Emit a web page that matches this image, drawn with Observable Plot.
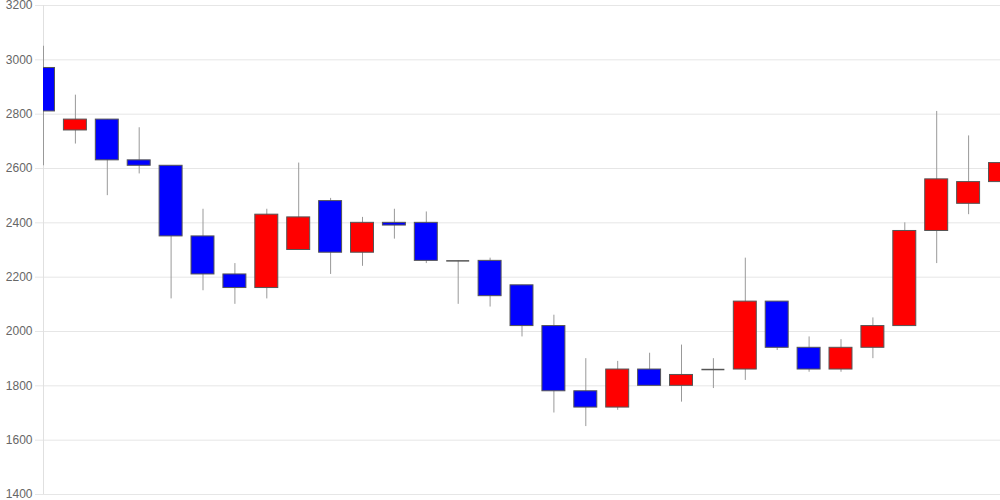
<!DOCTYPE html>
<html>
<head>
<meta charset="utf-8">
<script src="https://cdn.jsdelivr.net/npm/d3@7"></script>
<script src="https://cdn.jsdelivr.net/npm/@observablehq/plot@0.6"></script>
<style>
  html, body { margin: 0; padding: 0; background: #fff; }
  #chart svg { display: block; }
</style>
</head>
<body>
<div id="chart"></div>
<script>
const openVals  = [2970, 2740, 2780, 2630, 2610, 2350, 2210, 2160, 2300, 2480, 2290, 2400, 2400, 2260, 2260, 2170, 2020, 1780, 1720, 1860, 1800, 1860, 1860, 2110, 1940, 1860, 1940, 2020, 2370, 2470, 2550];
const closeVals = [2810, 2780, 2630, 2610, 2350, 2210, 2160, 2430, 2420, 2290, 2400, 2390, 2260, 2260, 2130, 2020, 1780, 1720, 1860, 1800, 1840, 1860, 2110, 1940, 1860, 1940, 2020, 2370, 2560, 2550, 2620];
const highVals  = [3050, 2870, 2780, 2750, 2610, 2450, 2250, 2450, 2620, 2490, 2420, 2450, 2440, 2260, 2270, 2170, 2060, 1900, 1890, 1920, 1950, 1900, 2270, 2110, 1980, 1970, 2050, 2400, 2810, 2720, 2820];
const lowVals   = [2610, 2690, 2500, 2580, 2120, 2150, 2100, 2120, 2300, 2210, 2240, 2340, 2250, 2100, 2090, 1980, 1700, 1650, 1710, 1800, 1740, 1790, 1820, 1930, 1850, 1850, 1900, 2020, 2250, 2430, 2440];
const yTicks = [1400, 1600, 1800, 2000, 2200, 2400, 2600, 2800, 3000, 3200];

const data = openVals.map((o, i) => ({
  i,
  open: o,
  close: closeVals[i],
  high: highVals[i],
  low: lowVals[i],
  up: closeVals[i] >= o
}));
const bodies = data.filter(d => d.open !== d.close);
const dojis = data.filter(d => d.open === d.close);

const half = 0.36;

const chart = Plot.plot({
  width: 1000,
  height: 500,
  marginLeft: 43,
  marginRight: 0,
  marginTop: 5,
  marginBottom: 6,
  style: { fontFamily: "'Liberation Sans', Arial, sans-serif", fontSize: "12px", background: "#fff" },
  x: { domain: [0, 30], axis: null },
  y: { domain: [1400, 3200], axis: null },
  marks: [
    Plot.gridY(yTicks, { stroke: "#e6e6e6", strokeOpacity: 1 }),
    Plot.axisY(yTicks, { tickSize: 8, tickPadding: 3, tickFormat: d3.format("d"), stroke: "#e6e6e6", fill: "#666", fontSize: 12 }),
    Plot.ruleX([0], { stroke: "#e0e0e0" }),
    Plot.ruleX(data, { x: "i", y1: "low", y2: "high", stroke: "#999", strokeWidth: 1, clip: true }),
    Plot.rectY(bodies, {
      x1: d => d.i - half,
      x2: d => d.i + half,
      y1: "open",
      y2: "close",
      fill: d => d.up ? "#ff0000" : "#0000ff",
      stroke: "#555",
      strokeWidth: 1,
      clip: true
    }),
    Plot.ruleY(dojis, {
      x1: d => d.i - half,
      x2: d => d.i + half,
      y: "open",
      stroke: "#555",
      strokeWidth: 1.5,
      clip: true
    })
  ]
});

document.getElementById("chart").appendChild(chart);
</script>
</body>
</html>
